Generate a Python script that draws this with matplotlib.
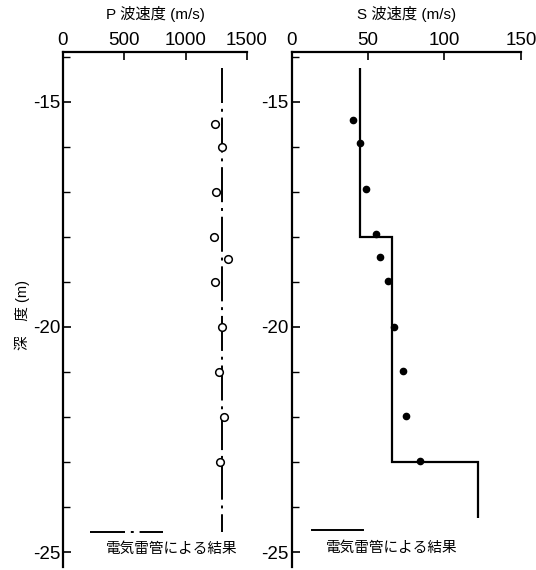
import matplotlib
matplotlib.use("Agg")
import matplotlib.pyplot as plt
from matplotlib.lines import Line2D

plt.rcParams['font.family'] = ['Liberation Sans', 'Noto Sans CJK JP', 'DejaVu Sans']
plt.rcParams['axes.unicode_minus'] = False

# P wave (m/s) - measured points
p_depth = [-15.5, -16.0, -17.0, -18.0, -18.5, -19.0, -20.0, -21.0, -22.0, -23.0]
p_velocity = [1240, 1300, 1245, 1235, 1345, 1240, 1300, 1270, 1315, 1280]
# electric detonator result (constant line)
p_line_depth = [-14.25, -24.55]
p_line_velocity = [1300, 1300]

# S wave (m/s) - measured points
s_depth = [-15.4, -15.92, -16.93, -17.94, -18.45, -18.97, -20.0, -20.98, -21.97, -22.98]
s_velocity = [40, 45, 49, 55, 58, 63, 67, 73, 75, 84]
# electric detonator result (layered)
s_layer_edges = [-14.25, -18.0, -23.0, -24.25]
s_layer_velocity = [45, 66, 122]

p_ticks = [0, 500, 1000, 1500]
s_ticks = [0, 50, 100, 150]
depth_ticks = [-15, -20, -25]
legend_text = "電気雷管による結果"

dashdot = (0, (18, 3, 1.5, 3))

fig = plt.figure(figsize=(5.36, 5.70), dpi=100)
ax1 = fig.add_axes([0.1175, 0.005, 0.3433, 0.9035])
ax2 = fig.add_axes([0.544, 0.005, 0.4278, 0.9035])

ylim = (-25.33, -13.9)

for ax, ticks in ((ax1, p_ticks), (ax2, s_ticks)):
    ax.set_ylim(*ylim)
    ax.set_xlim(ticks[0], ticks[-1])
    ax.xaxis.tick_top()
    ax.set_xticks(ticks)
    ax.set_yticks(depth_ticks)
    ax.set_yticklabels([str(t) for t in depth_ticks])
    ax.set_yticks(range(-25, -13), minor=True)
    ax.spines['right'].set_visible(False)
    ax.spines['bottom'].set_visible(False)
    ax.spines['left'].set_linewidth(1.6)
    ax.spines['top'].set_linewidth(1.6)
    ax.tick_params(axis='both', which='major', direction='in', length=6,
                   width=1.2, labelsize=13.5, pad=2)
    ax.tick_params(axis='y', which='minor', direction='in', length=5, width=1.0)
    ax.tick_params(axis='x', which='minor', top=False, bottom=False)

# P panel
ax1.plot(p_line_velocity, p_line_depth, color='black', lw=1.4, linestyle=dashdot)
ax1.plot(p_velocity, p_depth, 'o', mfc='white', mec='black', ms=5.5, mew=1.1)
ax1.set_title("P 波速度 (m/s)", fontsize=11, pad=24)
ax1.add_line(Line2D([0.147, 0.543], [0.068, 0.068], transform=ax1.transAxes,
                    color='black', lw=1.4, linestyle=dashdot))
ax1.text(0.592, 0.035, legend_text, transform=ax1.transAxes, ha='center',
         va='center', fontsize=10.5)

# S panel
ax2.stairs(s_layer_velocity, s_layer_edges, orientation='horizontal',
           baseline=None, color='black', lw=1.6)
ax2.plot(s_velocity, s_depth, 'o', color='black', ms=4.5)
ax2.set_title("S 波速度 (m/s)", fontsize=11, pad=24)
ax2.add_line(Line2D([0.089, 0.311], [0.072, 0.072], transform=ax2.transAxes,
                    color='black', lw=1.4))
ax2.text(0.437, 0.037, legend_text, transform=ax2.transAxes, ha='center',
         va='center', fontsize=10.5)

fig.text(22 / 536, 1 - 315 / 570, "深　度 (m)", rotation=90, ha='center',
         va='center', fontsize=10.5)

fig.savefig("out.png", dpi=100)
